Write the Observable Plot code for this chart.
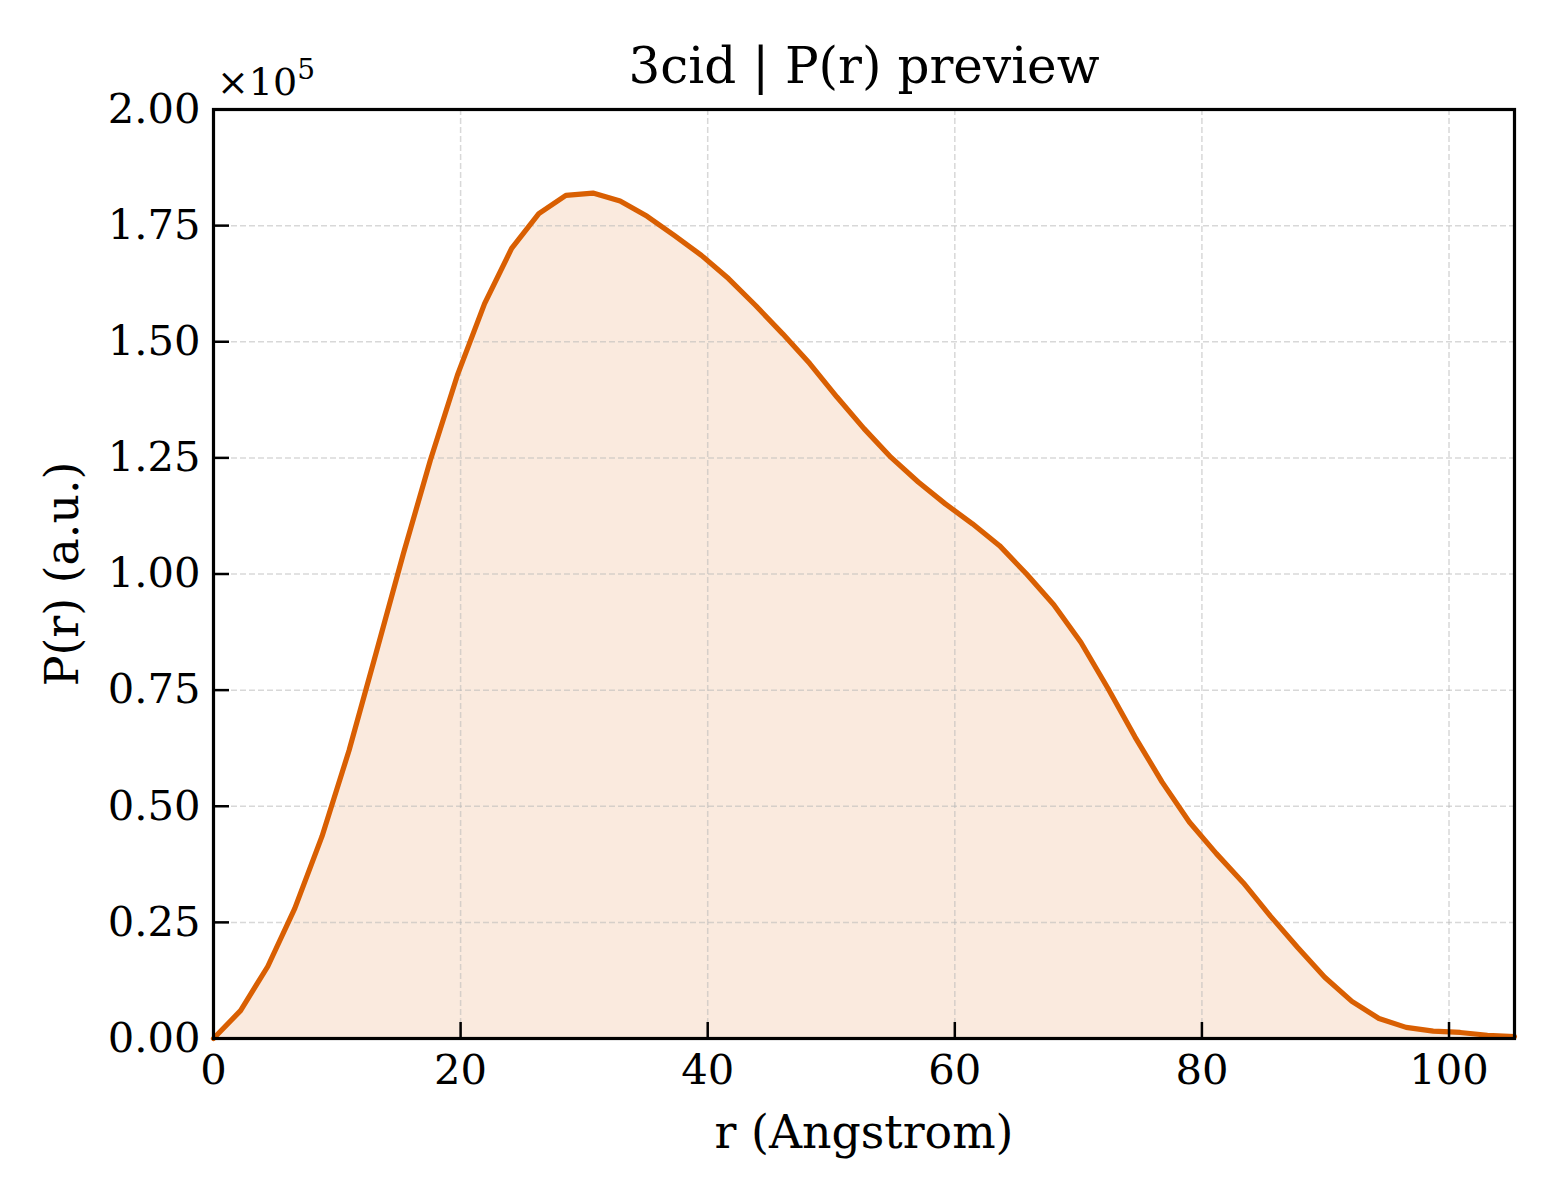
<!DOCTYPE html>
<html><head><meta charset="utf-8">
<script src="https://cdn.jsdelivr.net/npm/d3@7"></script>
<script src="https://cdn.jsdelivr.net/npm/@observablehq/plot@0.6"></script>
<style>html,body{margin:0;padding:0;background:#fff} svg{display:block}</style>
</head><body><div id="chart"></div>
<script>
const r = [0, 2.19, 4.39, 6.58, 8.78, 10.97, 13.16, 15.36, 17.55, 19.74, 21.94, 24.13, 26.33, 28.52, 30.71, 32.91, 35.10, 37.29, 39.49, 41.68, 43.88, 46.07, 48.26, 50.46, 52.65, 54.84, 57.04, 59.23, 61.43, 63.62, 65.81, 68.01, 70.20, 72.39, 74.59, 76.78, 78.98, 81.17, 83.36, 85.56, 87.75, 89.94, 92.14, 94.33, 96.53, 98.72, 100.91, 103.11, 105.30];
const pr = [0, 6000, 15500, 28000, 43500, 62000, 83000, 104300, 124500, 142800, 158200, 170100, 177600, 181500, 182000, 180300, 177000, 172900, 168600, 163600, 157800, 151700, 145300, 138100, 131300, 125100, 119800, 115100, 110800, 106100, 100000, 93400, 85300, 75400, 64900, 55200, 46600, 39800, 33500, 26300, 19600, 13200, 8000, 4300, 2400, 1600, 1300, 700, 400];
const xTicks = [0, 20, 40, 60, 80, 100];
const yTicks = [0, 25000, 50000, 75000, 100000, 125000, 150000, 175000, 200000];
const xDomain = [0, 105.3];
const yDomain = [0, 200000];
const title = "3cid | P(r) preview";
const xLabel = "r (Angstrom)";
const yLabel = "P(r) (a.u.)";
const data = r.map((x, i) => ({r: x, p: pr[i]}));

const W = 1560, H = 1200, mL = 213, mR = 46, mT = 109, mB = 162;
const font = "DejaVu Serif";
const lineColor = "#d95f02";
const gridStyle = {stroke: "#b8b8b8", strokeOpacity: 0.55, strokeWidth: 1.5, strokeDasharray: "6,3"};

const chart = Plot.plot({
  width: W, height: H,
  marginLeft: mL, marginRight: mR, marginTop: mT, marginBottom: mB,
  style: {fontFamily: font, fontSize: "41.7px", color: "#000", background: "#fff", overflow: "visible"},
  x: {domain: xDomain},
  y: {domain: yDomain},
  marks: [
    Plot.areaY(data, {x: "r", y: "p", fill: lineColor, fillOpacity: 0.13}),
    Plot.gridX(xTicks, gridStyle),
    Plot.gridY(yTicks, gridStyle),
    Plot.lineY(data, {x: "r", y: "p", stroke: lineColor, strokeWidth: 5.2, strokeLinejoin: "round"}),
    Plot.tickY(yTicks, {y: d => d, stroke: "#000", strokeWidth: 2.5, insetRight: W - mL - mR - 16}),
    Plot.tickX(xTicks, {x: d => d, stroke: "#000", strokeWidth: 2.5, insetTop: H - mT - mB - 16}),
    Plot.frame({stroke: "#000", strokeWidth: 3.2}),
    Plot.axisX(xTicks, {tickSize: 0, tickPadding: 16, fontSize: 41.7, label: xLabel, labelAnchor: "center", labelArrow: "none", labelOffset: 109}),
    Plot.axisY(yTicks, {tickSize: 0, tickPadding: 13, fontSize: 41.7, tickFormat: d => (d / 1e5).toFixed(2), label: yLabel, labelAnchor: "center", labelArrow: "none", labelOffset: 168}),
    Plot.text([title], {frameAnchor: "top", dy: -27, lineAnchor: "bottom", fontSize: 50, fill: "#000"})
  ]
});

const svg = d3.select(chart);
svg.selectAll("[aria-label='x-axis label'] text, [aria-label='y-axis label'] text").style("font-size", "45.8px");
const exp = svg.append("text")
  .attr("x", mL + 4).attr("y", mT - 14)
  .attr("text-anchor", "start")
  .attr("font-family", font).attr("font-size", 38).attr("fill", "#000");
exp.append("tspan").text("×10");
exp.append("tspan").attr("font-size", 28).attr("dy", -16).text("5");

document.getElementById("chart").appendChild(chart);
</script>
</body></html>
